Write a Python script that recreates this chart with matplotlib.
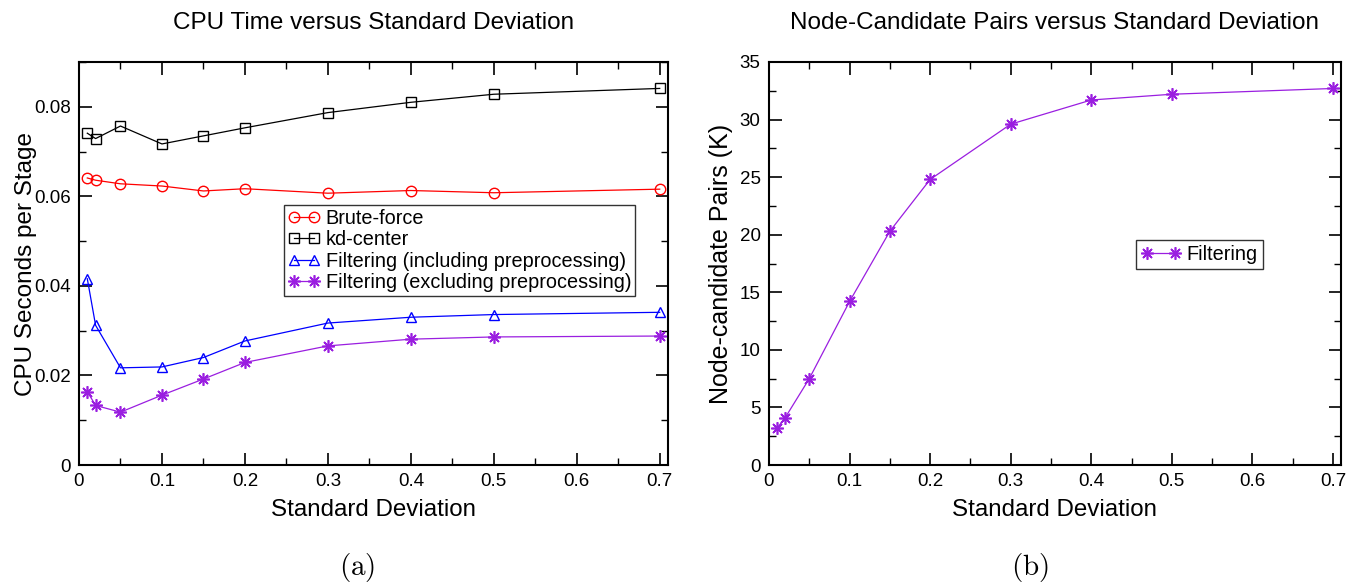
import matplotlib
matplotlib.use("Agg")
import matplotlib.pyplot as plt
from matplotlib.ticker import MultipleLocator, FuncFormatter

plt.rcParams['font.family'] = ['Liberation Sans', 'DejaVu Sans']
plt.rcParams['mathtext.fontset'] = 'cm'

std_dev = [0.01, 0.02, 0.05, 0.1, 0.15, 0.2, 0.3, 0.4, 0.5, 0.7]
brute_force = [0.0641, 0.0636, 0.0628, 0.0623, 0.0612, 0.0617, 0.0607, 0.0613, 0.0608, 0.0616]
kd_center = [0.0741, 0.0729, 0.0757, 0.0717, 0.0735, 0.0753, 0.0787, 0.0810, 0.0828, 0.0841]
filt_incl = [0.0416, 0.0312, 0.0217, 0.0219, 0.0240, 0.0277, 0.0317, 0.0330, 0.0336, 0.0341]
filt_excl = [0.0164, 0.0133, 0.0118, 0.0156, 0.0192, 0.0229, 0.0266, 0.0281, 0.0286, 0.0288]
node_pairs = [3.2, 4.1, 7.5, 14.2, 20.3, 24.8, 29.6, 31.7, 32.2, 32.7]

W, H = 1359, 588
fig = plt.figure(figsize=(W / 100, H / 100), dpi=100)

def box(x0, y0, x1, y1):
    return [x0 / W, 1 - y1 / H, (x1 - x0) / W, (y1 - y0) / H]

ax1 = fig.add_axes(box(79, 62, 668, 465))
ax2 = fig.add_axes(box(769, 62, 1341, 465))

purple = '#9a1ee0'
star = (8, 2, 0)
ax1.plot(std_dev, brute_force, color='red', marker='o', ms=7.5, mfc='none', lw=0.9,
         label='Brute-force')
ax1.plot(std_dev, kd_center, color='black', marker='s', ms=7, mfc='none', lw=0.9,
         label='kd-center')
ax1.plot(std_dev, filt_incl, color='blue', marker='^', ms=7.5, mfc='none', lw=0.9,
         label='Filtering (including preprocessing)')
ax1.plot(std_dev, filt_excl, color=purple, marker=star, ms=9, mew=1.2, lw=0.9,
         label='Filtering (excluding preprocessing)')

ax2.plot(std_dev, node_pairs, color=purple, marker=star, ms=9, mew=1.2, lw=0.9, label='Filtering')

fmt = FuncFormatter(lambda v, p: '0' if abs(v) < 1e-9 else '%g' % round(v, 3))
for ax in (ax1, ax2):
    ax.set_xlim(0, 0.71)
    ax.set_xticks([0, 0.1, 0.2, 0.3, 0.4, 0.5, 0.6, 0.7])
    ax.xaxis.set_minor_locator(MultipleLocator(0.05))
    ax.xaxis.set_major_formatter(fmt)
    ax.tick_params(which='both', direction='in', top=True, right=True, labelsize=13.5, pad=6)
    ax.tick_params(which='major', length=9, width=1.2)
    ax.tick_params(which='minor', length=5, width=1.0)
    for s in ax.spines.values():
        s.set_linewidth(1.5)
    ax.set_xlabel('Standard Deviation', fontsize=17.4, labelpad=6)

ax1.set_ylim(0, 0.09)
ax1.set_yticks([0, 0.02, 0.04, 0.06, 0.08])
ax1.yaxis.set_minor_locator(MultipleLocator(0.01))
ax1.yaxis.set_major_formatter(FuncFormatter(lambda v, p: '0' if abs(v) < 1e-9 else '%.2f' % v))
ax1.set_ylabel('CPU Seconds per Stage', fontsize=17.5, labelpad=-2)
ax1.set_title('CPU Time versus Standard Deviation', fontsize=17.5, pad=24)

ax2.set_ylim(0, 35)
ax2.yaxis.set_major_locator(MultipleLocator(5))
ax2.yaxis.set_minor_locator(MultipleLocator(2.5))
ax2.set_ylabel('Node-candidate Pairs (K)', fontsize=18, labelpad=5)
ax2.set_title('Node-Candidate Pairs versus Standard Deviation', fontsize=17.5, pad=24)

leg1 = ax1.legend(loc='upper left', bbox_to_anchor=((284 - 79) / 589, 1 - (205 - 62) / 403),
                  numpoints=2, fontsize=14.3, frameon=True, fancybox=False, edgecolor='black',
                  handlelength=1.6, handletextpad=0.3, borderpad=0.2, labelspacing=0.12,
                  borderaxespad=0)
leg1.get_frame().set_linewidth(1.0)
leg2 = ax2.legend(loc='upper left', bbox_to_anchor=((1136 - 769) / 572, 1 - (240 - 62) / 403),
                  numpoints=2, fontsize=14.3, frameon=True, fancybox=False, edgecolor='black',
                  handlelength=2.0, handletextpad=0.3, borderpad=0.25, borderaxespad=0)
leg2.get_frame().set_linewidth(1.0)

fig.text(357 / W, 1 - 568 / H, r'$(\mathrm{a})$', fontsize=21, ha='center', va='center')
fig.text(1030 / W, 1 - 568 / H, r'$(\mathrm{b})$', fontsize=21, ha='center', va='center')

fig.savefig('out.png', dpi=100)
